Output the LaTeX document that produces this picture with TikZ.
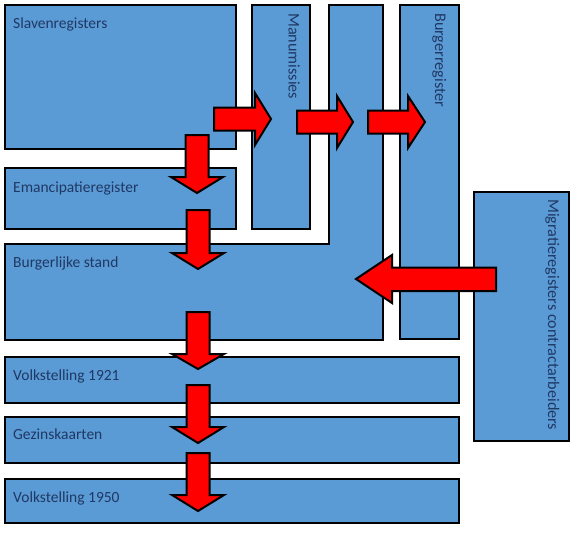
\documentclass[tikz,border=0pt]{standalone}
\usepackage{fontspec}
\setmainfont{Carlito}
\definecolor{boxblue}{HTML}{5B9BD5}
\definecolor{txtblue}{HTML}{1F3864}
\definecolor{arrred}{HTML}{FF0000}
\tikzset{
  regbox/.style={draw=black, line width=2.6pt, fill=boxblue},
  blockarrow/.style={draw=black, line width=2pt, fill=arrred, line join=miter},
  lbl/.style={text=txtblue, font=\fontsize{15.5}{18}\selectfont, inner sep=0pt, anchor=base west},
  vlbl/.style={lbl, font=\fontsize{16.2}{19}\selectfont, rotate=-90},
}
% down arrow: cx, shaft top, head start, tip
\newcommand{\blkdown}[4]{%
  \draw[blockarrow] (#1-11.5,#2) -- (#1+11.5,#2) -- (#1+11.5,#3) -- (#1+26,#3) -- (#1,#4) -- (#1-26,#3) -- (#1-11.5,#3) -- cycle;}
% right arrow: cy, shaft left, head start, tip
\newcommand{\blkright}[4]{%
  \draw[blockarrow] (#2,#1-11.5) -- (#3,#1-11.5) -- (#3,#1-26) -- (#4,#1) -- (#3,#1+26) -- (#3,#1+11.5) -- (#2,#1+11.5) -- cycle;}
\begin{document}
\begin{tikzpicture}[x=1pt,y=-1pt]
\useasboundingbox (0,0) rectangle (580,533);
% boxes
\draw[regbox] (5,5) rectangle (236,149);
\draw[regbox] (5,168) rectangle (236,229);
\draw[regbox] (252,5) rectangle (310,229);
\draw[regbox] (5,244) -- (329,244) -- (329,5) -- (383,5) -- (383,340) -- (5,340) -- cycle;
\draw[regbox] (400,5) rectangle (459,339);
\draw[regbox] (474,192) rectangle (569,441);
\draw[regbox] (5,357) rectangle (459,403);
\draw[regbox] (5,417) rectangle (459,463);
\draw[regbox] (5,479) rectangle (459,523);
% labels
\node[lbl] (slaven) at (13,28) {Slavenregisters};
\node[lbl] (eman) at (13,192) {Emancipatieregister};
\node[lbl] (bs) at (13,267) {Burgerlijke stand};
\node[lbl] (v1921) at (13,380) {Volkstelling 1921};
\node[lbl] (gezin) at (13,439) {Gezinskaarten};
\node[lbl] (v1950) at (13,502) {Volkstelling 1950};
\node[vlbl] (manu) at (288.5,13) {Manumissies};
\node[vlbl] (burger) at (435,13) {Burgerregister};
\node[vlbl] (migr) at (548,199) {Migratieregisters contractarbeiders};
% arrows
\blkdown{197}{135}{177}{193}
\blkdown{198}{210}{253}{269}
\blkdown{198}{312}{354}{369}
\blkdown{198}{385}{427}{443}
\blkdown{198}{453}{495}{511}
\blkright{119}{214}{255}{271}
\blkright{122}{297}{337}{353}
\blkright{122}{368}{408}{425}
\draw[blockarrow] (496,267.5) -- (392,267.5) -- (392,255) -- (356,279) -- (392,303) -- (392,291) -- (496,291) -- cycle;
\end{tikzpicture}
\end{document}
